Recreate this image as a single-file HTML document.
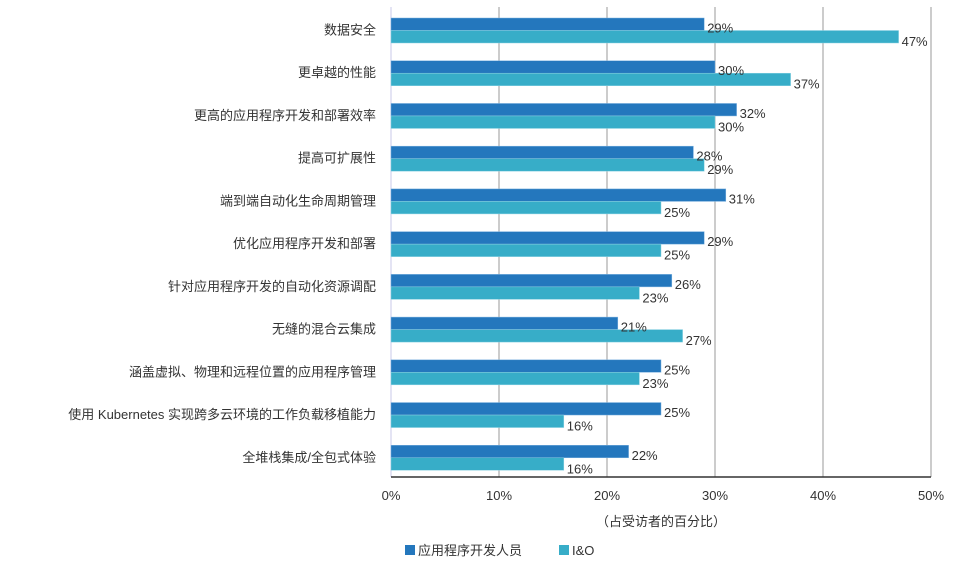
<!DOCTYPE html>
<html><head><meta charset="utf-8"><style>
body{margin:0;background:#fff;}
svg text{font-family:"Liberation Sans","Noto Sans CJK SC",sans-serif;fill:#333;}
</style></head><body>
<svg width="968" height="576" id="chart"></svg>
<script>
const categories=["数据安全","更卓越的性能","更高的应用程序开发和部署效率","提高可扩展性","端到端自动化生命周期管理","优化应用程序开发和部署","针对应用程序开发的自动化资源调配","无缝的混合云集成","涵盖虚拟、物理和远程位置的应用程序管理","使用 Kubernetes 实现跨多云环境的工作负载移植能力","全堆栈集成/全包式体验"];
const devValues=[29,30,32,28,31,29,26,21,25,25,22];
const ioValues=[47,37,30,29,25,25,23,27,23,16,16];
const tickValues=[0,10,20,30,40,50];
const seriesNames=["应用程序开发人员","I&O"];
const svg=document.getElementById('chart');
const NS="http://www.w3.org/2000/svg";
const x0=391,x1=931,yTop=7,yBot=477;
const xs=v=>x0+(v-0)/50*(x1-x0);
const band=(yBot-yTop)/categories.length;
const bandY=i=>yTop+i*band;
function mk(tag,attrs,parent){const e=document.createElementNS(NS,tag);for(const k in attrs)e.setAttribute(k,attrs[k]);(parent||svg).appendChild(e);return e;}
tickValues.forEach(t=>{
  if(t>0){const g=mk('line',{x1:xs(t),x2:xs(t),y1:yTop,y2:yBot,stroke:'#999','stroke-width':1});
  
  }
  const tl=mk('text',{x:xs(t),y:500,'text-anchor':'middle','font-size':13});
  
  
  tl.textContent=t+'%';
});
const ax=mk('line',{x1:x0,x2:x0,y1:yTop,y2:yBot,stroke:'#c8c8e8','stroke-width':1});


const bx=mk('line',{x1:x0,x2:x1,y1:yBot,y2:yBot,stroke:'#333','stroke-width':1.5});


categories.forEach((c,i)=>{
  const y=bandY(i);const top=y+11;const h=12.5;
  const cl=mk('text',{x:376,y:top+h+4,'text-anchor':'end','font-size':13});
  
  
  cl.textContent=c;
  const b1=mk('rect',{x:x0,y:top,width:xs(devValues[i])-x0,height:h,fill:'#2477bd',stroke:'#7fb3e0','stroke-width':0.5});
  
  
  const b2=mk('rect',{x:x0,y:top+h,width:xs(ioValues[i])-x0,height:h,fill:'#37adc8',stroke:'#8fd3e3','stroke-width':0.5});
  
  
  const l1=mk('text',{x:xs(devValues[i])+3,y:top+h+2,'font-size':13});
  
  
  l1.textContent=devValues[i]+'%';
  const l2=mk('text',{x:xs(ioValues[i])+3,y:top+2*h+3,'font-size':13});
  
  
  l2.textContent=ioValues[i]+'%';
});
const at=mk('text',{x:661,y:526,'text-anchor':'middle','font-size':13});


at.textContent='（占受访者的百分比）';
const lg=[[405,'#2477bd'],[559,'#37adc8']];
lg.forEach((p,i)=>{
  const r=mk('rect',{x:p[0],y:545,width:10,height:10,fill:p[1]});
  
  
  const t=mk('text',{x:p[0]+13,y:555,'font-size':13});
  
  
  t.textContent=seriesNames[i];
});
</script>
</body></html>
